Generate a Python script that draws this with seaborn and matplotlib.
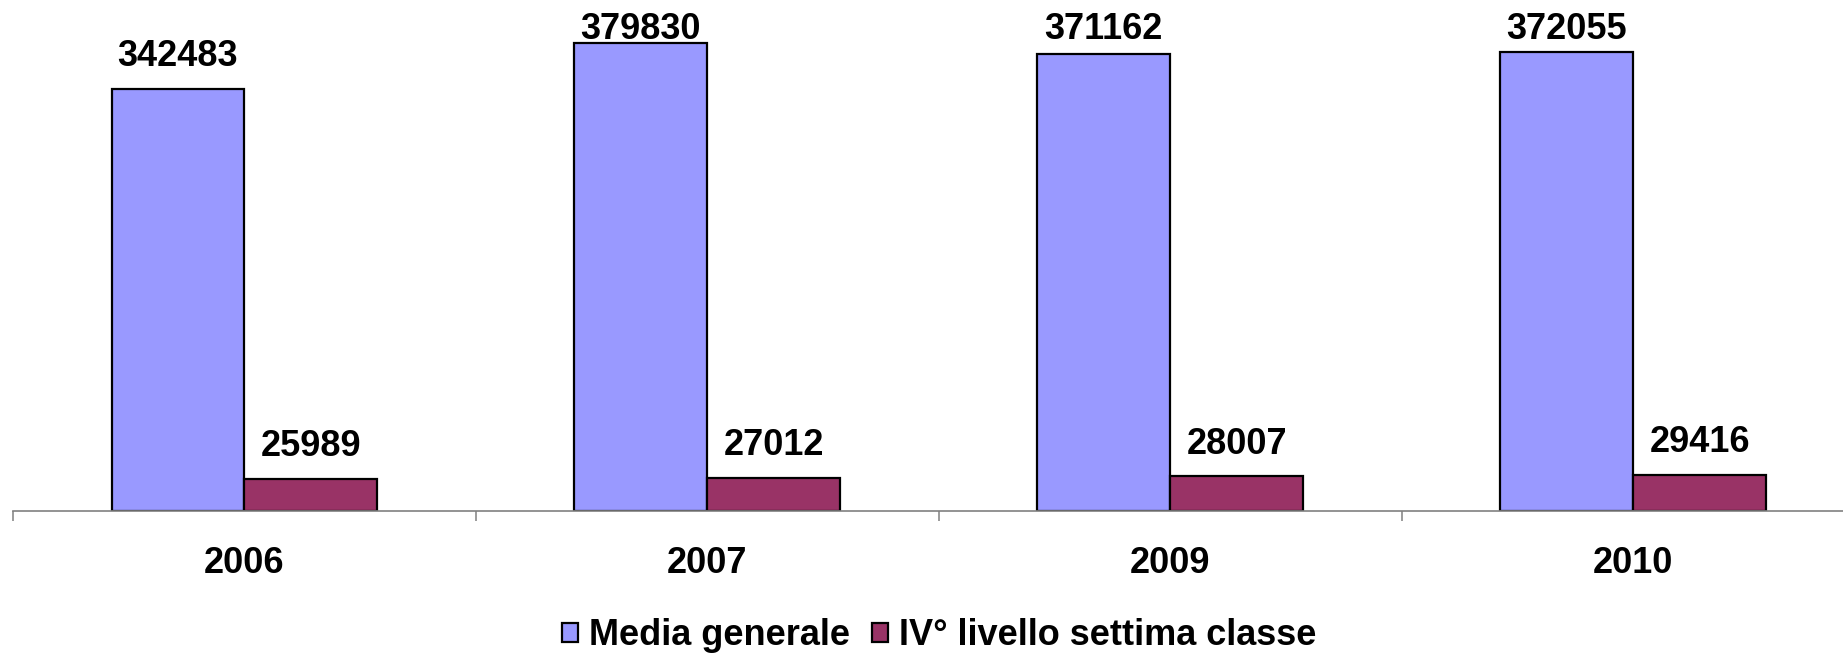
import matplotlib
matplotlib.use("Agg")
import matplotlib.pyplot as plt
import seaborn as sns
import pandas as pd
import numpy as np

anni = ["2006", "2007", "2009", "2010"]
media_generale = [342483, 379830, 371162, 372055]
quarto_livello = [25989, 27012, 28007, 29416]
serie = ["Media generale", "IV° livello settima classe"]
colori = ["#9999FF", "#993366"]

df = pd.DataFrame({
    "anno": anni * 2,
    "valore": media_generale + quarto_livello,
    "serie": [serie[0]] * len(anni) + [serie[1]] * len(anni),
})

sns.set_theme(style="white")
plt.rcParams["font.family"] = ["Liberation Sans", "DejaVu Sans"]
plt.rcParams["text.color"] = "black"

fig = plt.figure(figsize=(18.43, 6.53), dpi=100)
ax = fig.add_axes([0.007, 0.2175, 0.993, 0.755])

sns.barplot(data=df, x="anno", y="valore", hue="serie", palette=colori,
            width=0.574, edgecolor="black", linewidth=1.6, saturation=1,
            ax=ax)

# value labels above each bar; labels of the tallest bars are held
# below the top edge of the plot area
label_cap = 365000
for cont in ax.containers:
    for patch, val in zip(cont.patches, cont.datavalues):
        xc = patch.get_x() + patch.get_width() / 2
        ax.annotate(f"{int(val)}", xy=(xc, min(val, label_cap)),
                    xytext=(0, 23), textcoords="offset points",
                    ha="center", va="center", fontsize=26,
                    fontweight="bold", color="black")

ax.set_ylim(0, 400000)
ax.set_xlabel("")
ax.set_ylabel("")
ax.set_yticks([])

# category labels centred, tick marks on the category boundaries
ax.set_xticks(range(len(anni)))
ax.set_xticklabels(anni, fontsize=26, fontweight="bold", color="black")
ax.set_xticks(np.arange(-0.5, len(anni), 1.0), minor=True)
ax.tick_params(axis="x", which="major", length=0, pad=25.5)
ax.tick_params(axis="x", which="minor", length=7.2, width=1.1, color="#808080",
               direction="out", bottom=True)
ax.set_xlim(-0.5, 3.453)

for s in ["left", "right", "top"]:
    ax.spines[s].set_visible(False)
ax.spines["bottom"].set_color("#808080")
ax.spines["bottom"].set_linewidth(1.2)

handles, labels = ax.get_legend_handles_labels()
ax.legend(handles, labels, loc="lower center", bbox_to_anchor=(0.506, -0.318),
          ncol=2, frameon=False, labelcolor="black",
          prop={"weight": "bold", "size": 26},
          handlelength=0.45, handleheight=0.45, handletextpad=0.3,
          columnspacing=0.6, borderaxespad=0)

fig.savefig("out.png", dpi=100)
